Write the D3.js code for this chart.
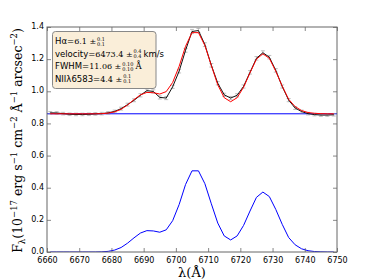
<!DOCTYPE html>
<html>
<head>
<meta charset="utf-8">
<script src="https://cdn.jsdelivr.net/npm/d3@7"></script>
<style>
  body { margin: 0; background: #fff; }
  svg { display: block; }
  .tick text { font-family: "DejaVu Sans", sans-serif; font-size: 8px; fill: #000; }
  .serif { font-family: "DejaVu Serif", "Liberation Serif", serif; }
</style>
</head>
<body>
<svg id="chart" width="374" height="280"></svg>
<script>
// wavelength grid of the spectrum (Angstrom)
var wave = [6661, 6663, 6665, 6667, 6669, 6671, 6673, 6675, 6677, 6679,
            6681, 6683, 6685, 6687, 6689, 6691, 6693, 6695, 6697, 6699,
            6701, 6703, 6705, 6707, 6709, 6711, 6713, 6715, 6717, 6719,
            6721, 6723, 6725, 6727, 6729, 6731, 6733, 6735, 6737, 6739,
            6741, 6743, 6745, 6747, 6749];

// observed flux
var flux = [0.866, 0.865, 0.861, 0.857, 0.856, 0.856, 0.857, 0.859, 0.861, 0.866,
            0.875, 0.892, 0.917, 0.944, 0.975, 1.004, 0.999, 0.962, 0.958, 1.028,
            1.125, 1.255, 1.372, 1.378, 1.29, 1.162, 1.05, 0.978, 0.958, 0.975,
            1.03, 1.118, 1.205, 1.24, 1.212, 1.13, 1.03, 0.945, 0.896, 0.874,
            0.861, 0.855, 0.852, 0.852, 0.854];

// flux error
var fluxErr = [0.008, 0.008, 0.008, 0.008, 0.008, 0.008, 0.008, 0.008, 0.008, 0.008,
               0.008, 0.009, 0.009, 0.009, 0.01, 0.01, 0.01, 0.01, 0.01, 0.01,
               0.011, 0.012, 0.013, 0.013, 0.012, 0.011, 0.01, 0.01, 0.01, 0.01,
               0.01, 0.011, 0.011, 0.012, 0.011, 0.011, 0.01, 0.01, 0.009, 0.009,
               0.008, 0.008, 0.008, 0.008, 0.008];

// best fit model (continuum + lines)
var model = [0.86, 0.86, 0.86, 0.86, 0.86, 0.86, 0.86, 0.86, 0.861, 0.864,
             0.872, 0.888, 0.915, 0.948, 0.978, 0.993, 0.991, 0.983, 0.998, 1.055,
             1.155, 1.28, 1.365, 1.365, 1.285, 1.16, 1.04, 0.96, 0.935, 0.96,
             1.025, 1.115, 1.2, 1.233, 1.205, 1.125, 1.032, 0.95, 0.905, 0.88,
             0.868, 0.863, 0.861, 0.86, 0.86];

// emission lines only
var lines = [0, 0, 0, 0, 0, 0, 0, 0, 0.001, 0.004,
             0.012, 0.028, 0.055, 0.088, 0.118, 0.133, 0.131, 0.123, 0.138, 0.195,
             0.295, 0.42, 0.505, 0.505, 0.425, 0.3, 0.18, 0.1, 0.075, 0.1,
             0.165, 0.255, 0.34, 0.373, 0.345, 0.265, 0.172, 0.09, 0.045, 0.02,
             0.008, 0.003, 0.001, 0, 0];

// continuum level
var contWave = [6660, 6750];
var contFlux = [0.86, 0.86];

var xTicks = [6660, 6670, 6680, 6690, 6700, 6710, 6720, 6730, 6740, 6750];
var yTicks = [0.0, 0.2, 0.4, 0.6, 0.8, 1.0, 1.2, 1.4];

var svg = d3.select("#chart");
var pLeft = 47, pRight = 337, pTop = 27, pBottom = 252;

var x = d3.scaleLinear().domain([6660, 6750]).range([pLeft, pRight]);
var y = d3.scaleLinear().domain([0, 1.4]).range([pBottom, pTop]);

svg.append("defs").append("clipPath").attr("id", "plot-clip")
   .append("rect")
   .attr("x", pLeft).attr("y", pTop)
   .attr("width", pRight - pLeft).attr("height", pBottom - pTop);

var plot = svg.append("g").attr("clip-path", "url(#plot-clip)");

var line = d3.line()
             .x(function(d) { return x(d[0]); })
             .y(function(d) { return y(d[1]); });

// continuum
plot.append("path")
    .attr("d", line(d3.zip(contWave, contFlux)))
    .attr("fill", "none").attr("stroke", "#0000ff").attr("stroke-width", 1);

// emission lines
plot.append("path")
    .attr("d", line(d3.zip(wave, lines)))
    .attr("fill", "none").attr("stroke", "#0000ff").attr("stroke-width", 1);

// error bars
var eb = plot.append("g").attr("stroke", "#999").attr("stroke-width", 0.6);
wave.forEach(function(w, i) {
    var cx = x(w), y0 = y(flux[i] - fluxErr[i]), y1 = y(flux[i] + fluxErr[i]);
    eb.append("line").attr("x1", cx).attr("x2", cx).attr("y1", y0).attr("y2", y1);
    eb.append("line").attr("x1", cx - 2).attr("x2", cx + 2).attr("y1", y0).attr("y2", y0);
    eb.append("line").attr("x1", cx - 2).attr("x2", cx + 2).attr("y1", y1).attr("y2", y1);
});

// data
plot.append("path")
    .attr("d", line(d3.zip(wave, flux)))
    .attr("fill", "none").attr("stroke", "#111").attr("stroke-width", 1);

// model
plot.append("path")
    .attr("d", line(d3.zip(wave, model)))
    .attr("fill", "none").attr("stroke", "#ff0000").attr("stroke-width", 1);

// axes, ticks inside on all sides
var axB = svg.append("g").attr("transform", "translate(0," + pBottom + ")")
    .call(d3.axisBottom(x).tickValues(xTicks).tickSizeInner(-4).tickSizeOuter(0).tickPadding(3)
          .tickFormat(d3.format("d")));
svg.append("g").attr("transform", "translate(0," + pTop + ")")
    .call(d3.axisTop(x).tickValues(xTicks).tickSizeInner(-4).tickSizeOuter(0).tickFormat(""));
var axL = svg.append("g").attr("transform", "translate(" + pLeft + ",0)")
    .call(d3.axisLeft(y).tickValues(yTicks).tickSizeInner(-4).tickSizeOuter(0).tickPadding(3)
          .tickFormat(d3.format(".1f")));
svg.append("g").attr("transform", "translate(" + pRight + ",0)")
    .call(d3.axisRight(y).tickValues(yTicks).tickSizeInner(-4).tickSizeOuter(0).tickFormat(""));
svg.selectAll(".domain").remove();
svg.selectAll(".tick line").attr("stroke", "#555").attr("stroke-width", 0.7);
axB.selectAll("text").attr("y", 5).attr("dy", "0.71em");
axL.selectAll("text").attr("dy", "0.2em");

svg.append("rect")
   .attr("x", pLeft).attr("y", pTop)
   .attr("width", pRight - pLeft).attr("height", pBottom - pTop)
   .attr("fill", "none").attr("stroke", "#666").attr("stroke-width", 1);

// x label
svg.append("text").attr("class", "serif")
   .attr("x", (pLeft + pRight) / 2).attr("y", 277)
   .attr("text-anchor", "middle").attr("font-size", 13)
   .text("λ(Å)");

// y label
var yl = svg.append("text").attr("class", "serif")
   .attr("transform", "translate(22," + ((pTop + pBottom) / 2 + 1) + ") rotate(-90)")
   .attr("text-anchor", "middle").attr("font-size", 12.5);
var parts = [["F", 0], ["λ", -1], ["(10", 0], ["−17", 1], [" erg s", 0], ["−1", 1],
             [" cm", 0], ["−2", 1], [" Å", 0], ["−1", 1], [" arcsec", 0], ["−2", 1], [")", 0]];
var shift = 0;
parts.forEach(function(p) {
    var t = yl.append("tspan").text(p[0]);
    var target = p[1] === 1 ? -5 : (p[1] === -1 ? 3 : 0);
    t.attr("dy", target - shift);
    shift = target;
    if (p[1] !== 0) t.attr("font-size", 8.5);
});

// info box
var info = [
    { label: "Hα=", val: "6.1", up: "0.1", lo: "0.1", unit: "" },
    { label: "velocity=", val: "6473.4", up: "0.4", lo: "0.4", unit: "km/s" },
    { label: "FWHM=", val: "11.06", up: "0.10", lo: "0.10", unit: "Å" },
    { label: "NIIλ6583=", val: "4.4", up: "0.1", lo: "0.1", unit: "" }
];

svg.append("rect")
   .attr("x", 52.5).attr("y", 31.5).attr("width", 103.5).attr("height", 57)
   .attr("rx", 3).attr("ry", 3)
   .attr("fill", "#f5deb3").attr("fill-opacity", 0.5)
   .attr("stroke", "#888").attr("stroke-width", 1);

info.forEach(function(d, i) {
    var by = 44 + i * 12.5;
    var g = svg.append("g");
    var t = g.append("text").attr("x", 55).attr("y", by)
             .attr("font-family", "DejaVu Sans, sans-serif").attr("font-size", 8.5);
    t.append("tspan").text(d.label);
    t.append("tspan").attr("class", "serif").attr("font-size", 8).text(d.val + " ±");
    var w = t.node().getComputedTextLength();
    var sx = 55 + w + 1;
    var tu = g.append("text").attr("class", "serif").attr("x", sx).attr("y", by - 3.5)
              .attr("font-size", 5).text(d.up);
    var tl = g.append("text").attr("class", "serif").attr("x", sx).attr("y", by + 1.5)
              .attr("font-size", 5).text(d.lo);
    if (d.unit) {
        var uw = Math.max(tu.node().getComputedTextLength(), tl.node().getComputedTextLength());
        g.append("text").attr("x", sx + uw + 2).attr("y", by)
         .attr("font-family", d.unit === "Å" ? "DejaVu Serif, serif" : "DejaVu Sans, sans-serif")
         .attr("font-size", 8.5).text(d.unit);
    }
});
</script>
</body>
</html>
